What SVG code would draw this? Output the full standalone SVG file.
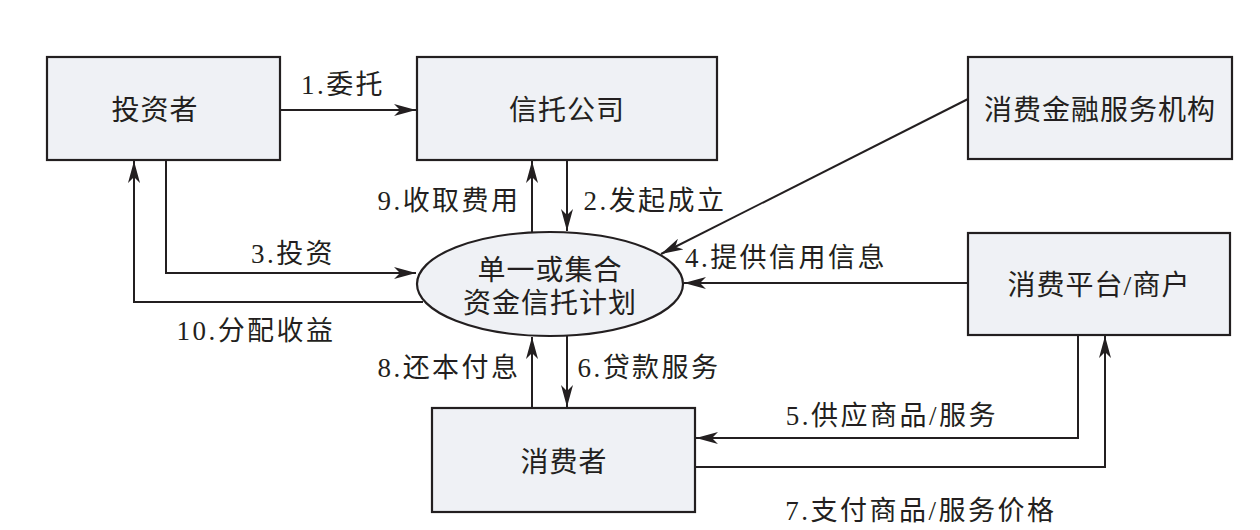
<svg xmlns="http://www.w3.org/2000/svg" width="1260" height="530" viewBox="0 0 1260 530">
<style>
.box{fill:#eff1f5;stroke:#231f20;stroke-width:2.2}
.t{font-family:"Liberation Serif","Noto Sans CJK SC",serif;font-size:28px;fill:#231f20;text-anchor:middle;letter-spacing:1px}
.l{font-family:"Liberation Serif","Noto Sans CJK SC",serif;font-size:27px;fill:#231f20;text-anchor:middle;letter-spacing:2.5px}
.c{fill:none;stroke:#231f20;stroke-width:2}
</style>
<defs>
<marker id="a" viewBox="0 0 22 12" refX="22" refY="6" markerWidth="22" markerHeight="12" markerUnits="userSpaceOnUse" orient="auto">
<path d="M0,0 L22,6 L0,12 L6,6 Z" fill="#231f20"/>
</marker>
</defs>
<rect width="1260" height="530" fill="#ffffff"/>
<g id="connectors">
<path class="c" d="M280,110 H416" marker-end="url(#a)"/>
<path class="c" d="M567,160 V231" marker-end="url(#a)"/>
<path class="c" d="M532,236 V161" marker-end="url(#a)"/>
<path class="c" d="M166,160 V273 H416" marker-end="url(#a)"/>
<path class="c" d="M423,302 H134 V161" marker-end="url(#a)"/>
<path class="c" d="M968,99 L661,254" marker-end="url(#a)"/>
<path class="c" d="M968,283 H684" marker-end="url(#a)"/>
<path class="c" d="M532,408 V337" marker-end="url(#a)"/>
<path class="c" d="M567,333 V407" marker-end="url(#a)"/>
<path class="c" d="M1078,335 V438 H696" marker-end="url(#a)"/>
<path class="c" d="M695,467 H1105 V336" marker-end="url(#a)"/>
<text class="l" x="343" y="94">1.委托</text>
<text class="l" x="655" y="210">2.发起成立</text>
<text class="l" x="449" y="210">9.收取费用</text>
<text class="l" x="293" y="263">3.投资</text>
<text class="l" x="256" y="340">10.分配收益</text>
<text class="l" x="786" y="267">4.提供信用信息</text>
<text class="l" x="449" y="377">8.还本付息</text>
<text class="l" x="649" y="377">6.贷款服务</text>
<text class="l" x="892" y="425">5.供应商品/服务</text>
<text class="l" x="921" y="520">7.支付商品/服务价格</text>
</g>
<g id="investor"><rect class="box" x="47" y="57" width="233" height="103"/><text class="t" x="155" y="120">投资者</text></g>
<g id="trust-company"><rect class="box" x="417" y="57" width="300" height="103"/><text class="t" x="567" y="120">信托公司</text></g>
<g id="consumer-finance"><rect class="box" x="968" y="57" width="264" height="102"/><text class="t" x="1100" y="120">消费金融服务机构</text></g>
<g id="trust-plan"><ellipse class="box" cx="550" cy="284" rx="133" ry="52"/><text class="t" x="550" y="280">单一或集合</text><text class="t" x="550" y="313">资金信托计划</text></g>
<g id="platform"><rect class="box" x="968" y="233" width="262" height="102"/><text class="t" x="1099" y="295">消费平台/商户</text></g>
<g id="consumer"><rect class="box" x="432" y="408" width="263" height="104"/><text class="t" x="564" y="472">消费者</text></g>
</svg>
